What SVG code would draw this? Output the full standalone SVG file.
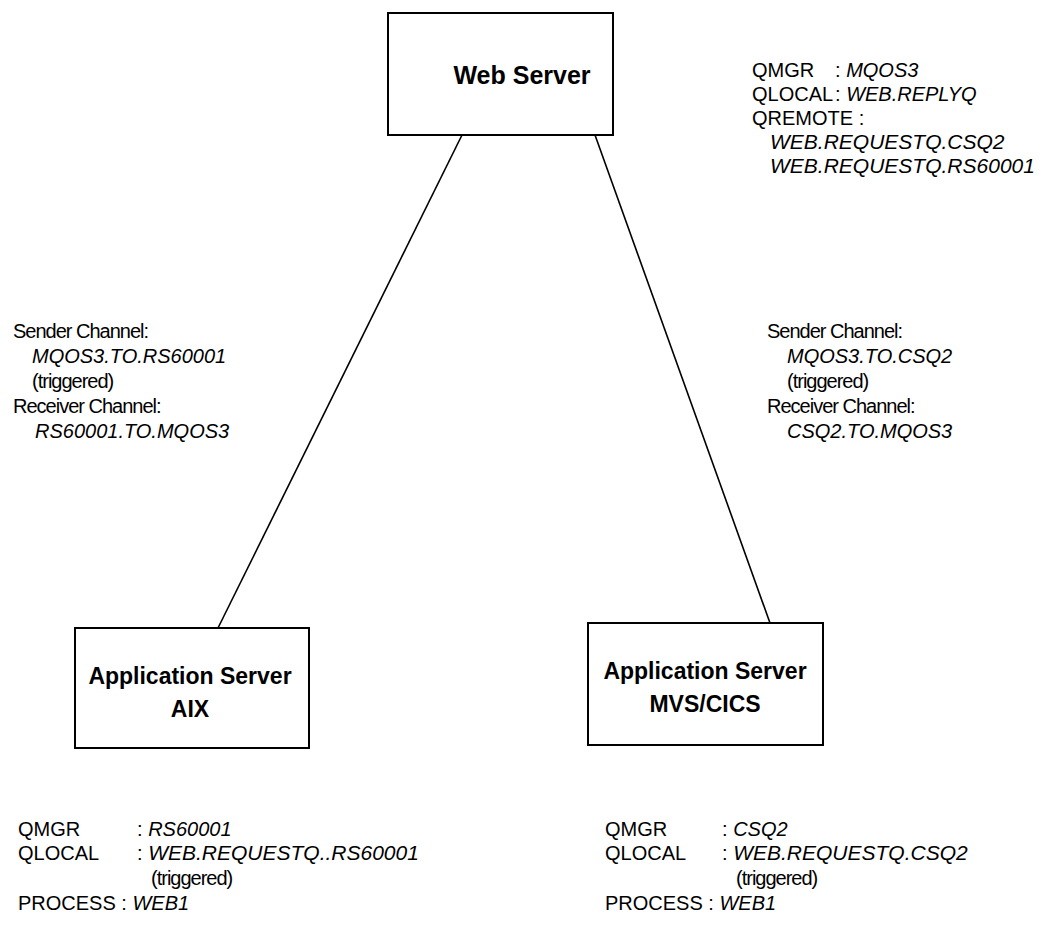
<svg xmlns="http://www.w3.org/2000/svg" width="1060" height="941" viewBox="0 0 1060 941">
<style>
.box{fill:#fff;stroke:#000;stroke-width:2}
.t{font-family:"Liberation Sans",Arial,sans-serif;font-size:20px;fill:#000}
.n{letter-spacing:-1px}
.b{font-family:"Liberation Sans",Arial,sans-serif;font-size:23px;font-weight:bold;fill:#000;text-anchor:middle}
.i{font-style:italic}
.w{font-size:21px}
.c{stroke:#000;stroke-width:1.6;fill:none}
</style>
<rect width="1060" height="941" fill="#fff"/>
<g id="connectors">
<line class="c" x1="462" y1="135" x2="218" y2="628"/>
<line class="c" x1="595" y1="135" x2="770" y2="623"/>
</g>
<g id="web-server">
<rect class="box" x="388" y="13" width="225" height="122"/>
<text class="b" x="522" y="84" style="font-size:25px">Web Server</text>
</g>
<g id="app-aix">
<rect class="box" x="75" y="628" width="234" height="120"/>
<text class="b" x="190" y="684">Application Server</text>
<text class="b" x="190" y="717">AIX</text>
</g>
<g id="app-mvs">
<rect class="box" x="588" y="623" width="235" height="122"/>
<text class="b" x="705" y="679">Application Server</text>
<text class="b" x="705" y="712">MVS/CICS</text>
</g>
<g id="web-labels">
<text class="t" x="752" y="77">QMGR</text><text class="t" x="835" y="77">: <tspan class="i">MQOS3</tspan></text>
<text class="t" x="752" y="101">QLOCAL</text><text class="t" x="835" y="101">: <tspan class="i">WEB.REPLYQ</tspan></text>
<text class="t" x="752" y="125">QREMOTE :</text>
<text class="t i w" x="770" y="149">WEB.REQUESTQ.CSQ2</text>
<text class="t i w" x="770" y="173">WEB.REQUESTQ.RS60001</text>
</g>
<g id="aix-channel-labels">
<text class="t n" x="13" y="338">Sender Channel:</text>
<text class="t i" x="32" y="363">MQOS3.TO.RS60001</text>
<text class="t n" x="32" y="388">(triggered)</text>
<text class="t n" x="13" y="413">Receiver Channel:</text>
<text class="t i" x="35" y="438">RS60001.TO.MQOS3</text>
</g>
<g id="mvs-channel-labels">
<text class="t n" x="767" y="338">Sender Channel:</text>
<text class="t i" x="787" y="363">MQOS3.TO.CSQ2</text>
<text class="t n" x="787" y="388">(triggered)</text>
<text class="t n" x="767" y="413">Receiver Channel:</text>
<text class="t i" x="787" y="438">CSQ2.TO.MQOS3</text>
</g>
<g id="aix-labels">
<text class="t" x="18" y="836">QMGR</text><text class="t" x="137" y="836">: <tspan class="i">RS60001</tspan></text>
<text class="t" x="18" y="860">QLOCAL</text><text class="t" x="137" y="860">: <tspan class="i w">WEB.REQUESTQ..RS60001</tspan></text>
<text class="t n" x="151" y="885">(triggered)</text>
<text class="t" x="18" y="910">PROCESS : <tspan class="i">WEB1</tspan></text>
</g>
<g id="mvs-labels">
<text class="t" x="605" y="836">QMGR</text><text class="t" x="722" y="836">: <tspan class="i">CSQ2</tspan></text>
<text class="t" x="605" y="860">QLOCAL</text><text class="t" x="722" y="860">: <tspan class="i w">WEB.REQUESTQ.CSQ2</tspan></text>
<text class="t n" x="736" y="885">(triggered)</text>
<text class="t" x="605" y="910">PROCESS : <tspan class="i">WEB1</tspan></text>
</g>
</svg>
